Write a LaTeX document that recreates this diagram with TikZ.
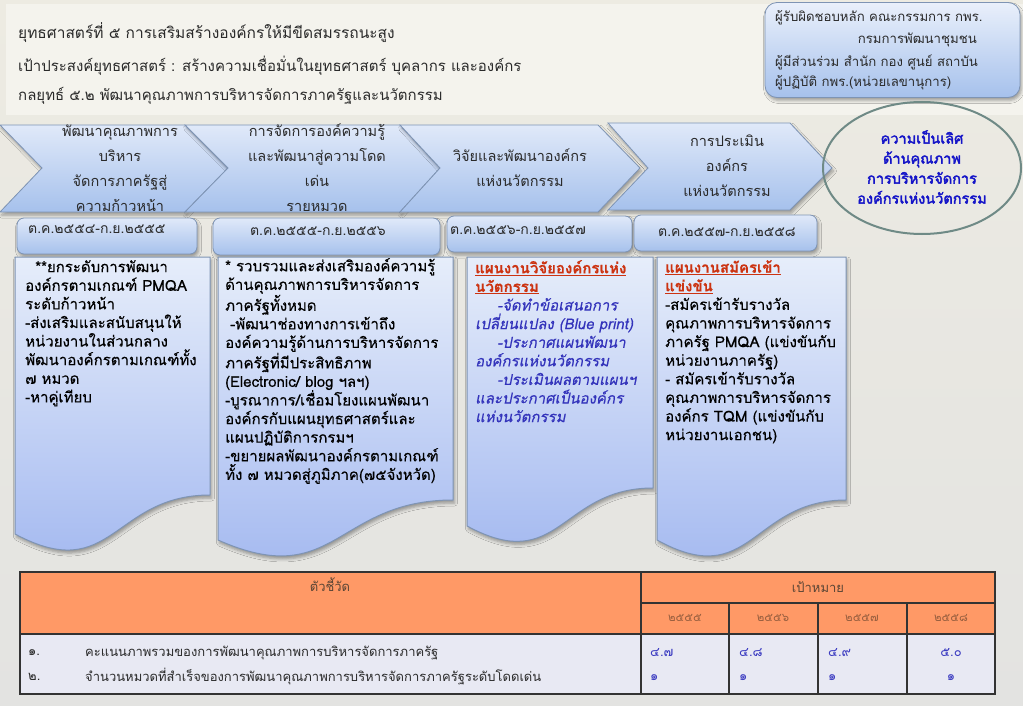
\documentclass[tikz,border=0pt]{standalone}
\usepackage{fontspec}
\setmainfont[Script=Thai,AutoFakeBold=2.5,AutoFakeSlant=0.2]{Loma}
\newfontfamily\boxfont[Script=Thai,FakeBold=0.35,AutoFakeSlant=0.2]{Loma}
\usetikzlibrary{shadows.blur}
\definecolor{bgTop}{HTML}{EDEBE2}
\definecolor{bgBot}{HTML}{E3E3E1}
\definecolor{panel}{HTML}{F4F3ED}
\definecolor{shT}{HTML}{E0E9F9}
\definecolor{shB}{HTML}{A6C1EC}
\definecolor{shLine}{HTML}{7E94B4}
\definecolor{elLine}{HTML}{6F8A86}
\definecolor{elTxt}{HTML}{1414C8}
\definecolor{redH}{HTML}{CC3311}
\definecolor{bluI}{HTML}{3333BB}
\definecolor{tabOr}{HTML}{FF9966}
\definecolor{tabRow}{HTML}{E8E9F3}
\definecolor{tabLine}{HTML}{333333}
\definecolor{tabHd}{HTML}{5A4535}
\definecolor{tabYr}{HTML}{9A6040}
\definecolor{tabVal}{HTML}{3A3AC0}
\definecolor{txt}{HTML}{2A2A2A}
\tikzset{
  shadowed/.style={blur shadow={shadow xshift=1.5pt,shadow yshift=-3pt,shadow blur radius=3pt,shadow opacity=35}},
  chev/.style={draw=shLine,line width=0.8pt,top color=shT,bottom color=shB,shadowed},
  docbox/.style={draw=shLine,line width=1pt,top color=shT!80!white,bottom color=shB!90!blue!90!white,shadowed},
  datebox/.style={draw=shLine,line width=0.8pt,rounded corners=7pt,top color=shT,bottom color=shB,shadowed,inner sep=0pt},
  respbox/.style={draw=shLine,line width=0.8pt,rounded corners=12pt,top color=shT!70!white,bottom color=shB,shadowed,inner sep=0pt},
  titletxt/.style={anchor=west,inner sep=0pt,text=txt},
  chevtxt/.style={align=center,inner sep=0pt,text=txt,font=\fontsize{14.5}{25}\selectfont},
  datetxt/.style={inner sep=0pt,text=txt,font=\fontsize{14}{15}\selectfont},
  boxtxt/.style={anchor=north west,align=left,inner sep=0pt,text=black,font=\boxfont\fontsize{15}{18.6}\selectfont},
  resptxt/.style={inner sep=0pt,text=txt,font=\fontsize{13.2}{15}\selectfont},
  tabtxt/.style={inner sep=0pt,font=\fontsize{13}{15}\selectfont},
}
\newcommand\docshape[6]{\path[docbox] (#1,#3) -- (#2,#3) -- (#2,#4) .. controls ({(#1+#2)/2},#4) and ({(#1+#2)/2},#6) .. (#1,#5) -- cycle;}
\begin{document}
\begin{tikzpicture}[x=1pt,y=-1pt]
\useasboundingbox (0,0) rectangle (1023,706);
\fill[top color=bgTop,bottom color=bgBot] (0,0) rectangle (1023,706);
\fill[panel] (6,4) rectangle (1023,115);

% titles
\node[titletxt,font=\fontsize{15.5}{20}\selectfont] (t1) at (18,33) {ยุทธศาสตร์ที่ ๕ การเสริมสร้างองค์กรให้มีขีดสมรรถนะสูง};
\node[titletxt,font=\fontsize{15}{18}\selectfont] (t2) at (18,66) {เป้าประสงค์ยุทธศาสตร์ :  สร้างความเชื่อมั่นในยุทธศาสตร์ บุคลากร  และองค์กร};
\node[titletxt,font=\fontsize{15}{18}\selectfont] (t3) at (18,96) {กลยุทธ์ ๕.๒  พัฒนาคุณภาพการบริหารจัดการภาครัฐและนวัตกรรม};

% responsibility box
\node[respbox,minimum width=255pt,minimum height=95pt] (resp) at (892.5,50) {};
\node[resptxt,anchor=west] (r1) at (775,18) {ผู้รับผิดชอบหลัก คณะกรรมการ กพร.};
\node[resptxt,anchor=east] (r2) at (977,40) {กรมการพัฒนาชุมชน};
\node[resptxt,anchor=west] (r3) at (775,62) {ผู้มีส่วนร่วม สำนัก กอง ศูนย์ สถาบัน};
\node[resptxt,anchor=west] (r4) at (775,83) {ผู้ปฏิบัติ กพร.(หน่วยเลขานุการ)};

% chevrons
\path[chev] (0,125) -- (185,125) -- (228,168) -- (185,212) -- (0,212) -- (42,168) -- cycle;
\path[chev] (185,125) -- (400,125) -- (440,168) -- (400,212) -- (185,212) -- (228,168) -- cycle;
\path[chev] (400,125) -- (598,125) -- (640,168) -- (598,212) -- (400,212) -- (440,168) -- cycle;
\path[chev] (608,123) -- (790,123) -- (832,168) -- (790,210) -- (608,210) -- (648,168) -- cycle;
\node[chevtxt] (c1) at (120,168) {พัฒนาคุณภาพการ\\บริหาร\\จัดการภาครัฐสู่\\ความก้าวหน้า};
\node[chevtxt] (c2) at (317,168) {การจัดการองค์ความรู้\\และพัฒนาสู่ความโดด\\เด่น\\รายหมวด};
\node[chevtxt] (c3) at (520,168) {วิจัยและพัฒนาองค์กร\\แห่งนวัตกรรม};
\node[chevtxt] (c4) at (727,166) {การประเมิน\\องค์กร\\แห่งนวัตกรรม};

% goal ellipse
\draw[elLine,line width=2pt] (922,168) ellipse [x radius=99, y radius=66];
\node[align=center,inner sep=0pt,text=elTxt,font=\bfseries\fontsize{14.5}{20}\selectfont] (goal) at (922,167) {ความเป็นเลิศ\\ด้านคุณภาพ\\การบริหารจัดการ\\องค์กรแห่งนวัตกรรม};

% date boxes
\node[datebox,minimum width=180pt,minimum height=36pt] (d1) at (107,236) {};
\node[datebox,minimum width=227pt,minimum height=37pt] (d2) at (326.5,236.5) {};
\node[datebox,minimum width=185pt,minimum height=36pt] (d3) at (539.5,234) {};
\node[datebox,minimum width=183pt,minimum height=36pt] (d4) at (725.5,233) {};
\node[datetxt,anchor=west] (dt1) at (28,229) {ต.ค.๒๕๕๔-ก.ย.๒๕๕๕};
\node[datetxt] (dt2) at (318,231) {ต.ค.๒๕๕๕-ก.ย.๒๕๕๖};
\node[datetxt,anchor=west] (dt3) at (450,230) {ต.ค.๒๕๕๖-ก.ย.๒๕๕๗};
\node[datetxt] (dt4) at (727,232) {ต.ค.๒๕๕๗-ก.ย.๒๕๕๘};

% document boxes
\docshape{15}{210}{257}{495}{534}{586}
\docshape{218}{453}{257}{500}{540}{592}
\docshape{467}{653}{257}{488}{526}{576}
\docshape{657}{846}{257}{500}{540}{592}

\node[boxtxt] (b1) at (25,260) {\ \ **ยกระดับการพัฒนา\\องค์กรตามเกณฑ์ PMQA\\ระดับก้าวหน้า\\-ส่งเสริมและสนับสนุนให้\\หน่วยงานในส่วนกลาง\\พัฒนาองค์กรตามเกณฑ์ทั้ง\\๗ หมวด\\-หาคู่เทียบ};
\node[boxtxt] (b2) at (225,258) {* รวบรวมและส่งเสริมองค์ความรู้\\ด้านคุณภาพการบริหารจัดการ\\ภาครัฐทั้งหมด\\\ -พัฒนาช่องทางการเข้าถึง\\องค์ความรู้ด้านการบริหารจัดการ\\ภาครัฐที่มีประสิทธิภาพ\\(Electronic/ blog ฯลฯ)\\-บูรณาการ/เชื่อมโยงแผนพัฒนา\\องค์กรกับแผนยุทธศาสตร์และ\\แผนปฏิบัติการกรมฯ\\-ขยายผลพัฒนาองค์กรตามเกณฑ์\\ทั้ง ๗ หมวดสู่ภูมิภาค(๗๕จังหวัด)};
\node[boxtxt] (b3) at (475,260) {\textcolor{redH}{\bfseries\underline{แผนงานวิจัยองค์กรแห่ง}}\\\textcolor{redH}{\bfseries\underline{นวัตกรรม}}\\\textcolor{bluI}{\itshape\hspace*{22pt}-จัดทำข้อเสนอการ}\\\textcolor{bluI}{\itshape เปลี่ยนแปลง (Blue print)}\\\textcolor{bluI}{\itshape\hspace*{22pt}-ประกาศแผนพัฒนา}\\\textcolor{bluI}{\itshape องค์กรแห่งนวัตกรรม}\\\textcolor{bluI}{\itshape\hspace*{22pt}-ประเมินผลตามแผนฯ}\\\textcolor{bluI}{\itshape และประกาศเป็นองค์กร}\\\textcolor{bluI}{\itshape แห่งนวัตกรรม}};
\node[boxtxt] (b4) at (665,260) {\textcolor{redH}{\bfseries\underline{แผนงานสมัครเข้า}}\\\textcolor{redH}{\bfseries\underline{แข่งขัน}}\\-สมัครเข้ารับรางวัล\\คุณภาพการบริหารจัดการ\\ภาครัฐ PMQA (แข่งขันกับ\\หน่วยงานภาครัฐ)\\- สมัครเข้ารับรางวัล\\คุณภาพการบริหารจัดการ\\องค์กร TQM (แข่งขันกับ\\หน่วยงานเอกชน)};

% table
\fill[tabOr] (20,572) rectangle (995,634);
\fill[tabRow] (20,634) rectangle (995,694);
\draw[tabLine,line width=1.4pt] (20,572) rectangle (995,694);
\draw[tabLine,line width=1.2pt] (20,634) -- (995,634);
\draw[tabLine,line width=1.2pt] (641,572) -- (641,694);
\draw[tabLine,line width=1.2pt] (641,603) -- (995,603);
\foreach \xx in {729,818,907} \draw[tabLine,line width=1.2pt] (\xx,603) -- (\xx,694);
\node[tabtxt,text=tabHd] (h1) at (330,585) {ตัวชี้วัด};
\node[tabtxt,text=tabHd] (h2) at (818,587) {เป้าหมาย};
\node[tabtxt,text=tabYr,font=\fontsize{11.5}{13}\selectfont] (y1) at (685,618) {๒๕๕๕};
\node[tabtxt,text=tabYr,font=\fontsize{11.5}{13}\selectfont] (y2) at (773,618) {๒๕๕๖};
\node[tabtxt,text=tabYr,font=\fontsize{11.5}{13}\selectfont] (y3) at (862,618) {๒๕๕๗};
\node[tabtxt,text=tabYr,font=\fontsize{11.5}{13}\selectfont] (y4) at (951,618) {๒๕๕๘};
\node[tabtxt,text=txt,anchor=west] (n1) at (28,653) {๑.};
\node[tabtxt,text=txt,anchor=west] (n2) at (28,677) {๒.};
\node[tabtxt,text=txt,anchor=west] (l1) at (85,653) {คะแนนภาพรวมของการพัฒนาคุณภาพการบริหารจัดการภาครัฐ};
\node[tabtxt,text=txt,anchor=west] (l2) at (85,677) {จำนวนหมวดที่สำเร็จของการพัฒนาคุณภาพการบริหารจัดการภาครัฐระดับโดดเด่น};
\node[tabtxt,text=tabVal,anchor=west] (v11) at (650,653) {๔.๗};
\node[tabtxt,text=tabVal,anchor=west] (v12) at (739,653) {๔.๘};
\node[tabtxt,text=tabVal,anchor=west] (v13) at (828,653) {๔.๙};
\node[tabtxt,text=tabVal] (v14) at (951,653) {๕.๐};
\node[tabtxt,text=tabVal,anchor=west] (v21) at (650,678) {๑};
\node[tabtxt,text=tabVal,anchor=west] (v22) at (739,678) {๑};
\node[tabtxt,text=tabVal,anchor=west] (v23) at (828,678) {๑};
\node[tabtxt,text=tabVal] (v24) at (951,678) {๑};
\end{tikzpicture}
\end{document}
